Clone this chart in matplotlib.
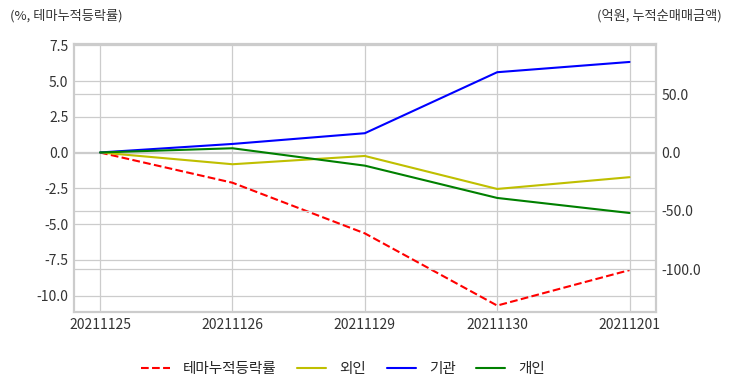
import matplotlib
matplotlib.use("Agg")
import matplotlib.pyplot as plt
import seaborn as sns

dates = ["20211125", "20211126", "20211129", "20211130", "20211201"]
theme_pct = [0.0, -2.11, -5.65, -10.7, -8.22]
foreign = [0.0, -10.1, -3.0, -31.3, -21.2]
institution = [0.0, 7.3, 16.5, 68.8, 77.6]
individual = [0.0, 3.6, -11.3, -39.0, -51.9]

left_ticks = [7.5, 5.0, 2.5, 0.0, -2.5, -5.0, -7.5, -10.0]
right_ticks = [50.0, 0.0, -50.0, -100.0]

sns.set_style("whitegrid")
plt.rcParams['font.family'] = ['Noto Sans CJK KR', 'DejaVu Sans']
plt.rcParams['axes.unicode_minus'] = False

fig = plt.figure(figsize=(7.32, 3.92), dpi=100)
ax = fig.add_axes([74/732, 1-312/392, (656-74)/732, (312-44)/392])
ax2 = ax.twinx()

x = list(range(len(dates)))
l1, = ax.plot(x, theme_pct, 'r--', lw=1.5, label='테마누적등락률')
l2, = ax2.plot(x, foreign, color='y', lw=1.5, label='외인')
l3, = ax2.plot(x, institution, color='b', lw=1.5, label='기관')
l4, = ax2.plot(x, individual, color='g', lw=1.5, label='개인')

ax.set_xticks(x)
ax.set_xticklabels(dates)
ax.set_xlim(-0.197, 4.2)
ax.set_ylim(-11.15, 7.59)
ax.set_yticks(left_ticks)
ax.set_yticklabels([f"{v:.1f}" for v in left_ticks])
ax2.set_ylim(-136.8, 93.0)
ax2.set_yticks(right_ticks)
ax2.set_yticklabels([f"{v:.1f}" for v in right_ticks])

for a in (ax, ax2):
    a.tick_params(labelsize=10, colors='#333333', length=0, pad=4)
    for s in a.spines.values():
        s.set_color('#cccccc')
        s.set_linewidth(1.5)
    a.grid(True, color='#cccccc', lw=0.9)
ax2.grid(True, axis='y', color='#cccccc', lw=0.9)
ax2.grid(False, axis='x')

fig.text(10/732, 1-16/392, '(%, 테마누적등락률)', fontsize=9.5, color='#333333', va='center', ha='left')
fig.text(722/732, 1-16/392, '(억원, 누적순매매금액)', fontsize=9.5, color='#333333', va='center', ha='right')

fig.legend(handles=[l1, l2, l3, l4], loc='center', bbox_to_anchor=(343/732, 1-369/392),
           ncol=4, frameon=False, fontsize=10.5, handlelength=2.0, handletextpad=0.9,
           columnspacing=1.4)

fig.savefig("out.png", dpi=100)
